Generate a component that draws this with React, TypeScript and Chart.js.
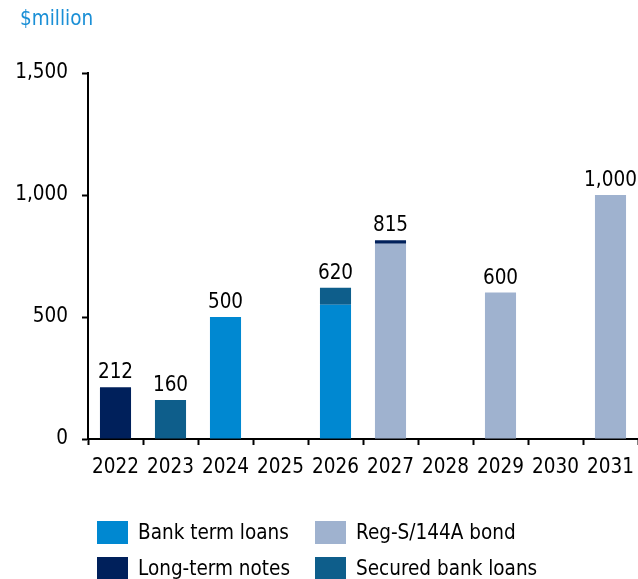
import React, { useEffect, useRef } from "react";
import { Chart, registerables } from "chart.js";

Chart.register(...registerables);

const categories = ["2022", "2023", "2024", "2025", "2026", "2027", "2028", "2029", "2030", "2031"];
const bankTermLoans = [0, 0, 500, 0, 550, 0, 0, 0, 0, 0];
const regSBond = [0, 0, 0, 0, 0, 800, 0, 600, 0, 1000];
const longTermNotes = [212, 0, 0, 0, 0, 15, 0, 0, 0, 0];
const securedBankLoans = [0, 160, 0, 0, 70, 0, 0, 0, 0, 0];
const yTicks = [0, 500, 1000, 1500];

const FONT = "'DejaVu Sans Condensed', 'DejaVu Sans', Verdana, sans-serif";
const FS = 20.5;

const series = [
  { label: "Bank term loans", data: bankTermLoans, color: "#0088d1" },
  { label: "Reg-S/144A bond", data: regSBond, color: "#9fb2cf" },
  { label: "Long-term notes", data: longTermNotes, color: "#00205b" },
  { label: "Secured bank loans", data: securedBankLoans, color: "#0e5e8b" },
];

const totalsPlugin = {
  id: "totals",
  afterDatasetsDraw(chart: any) {
    const ctx = chart.ctx;
    ctx.save();
    ctx.font = `${FS}px ${FONT}`;
    ctx.fillStyle = "#000";
    ctx.textAlign = "center";
    ctx.textBaseline = "alphabetic";
    categories.forEach((_, i) => {
      let total = 0;
      let topY: number | null = null;
      let x = 0;
      chart.data.datasets.forEach((ds: any, di: number) => {
        const v = ds.data[i];
        if (v > 0) {
          total += v;
          const el = chart.getDatasetMeta(di).data[i];
          if (topY === null || el.y < topY) topY = el.y;
          x = el.x;
        }
      });
      if (total > 0 && topY !== null) {
        ctx.fillText(total.toLocaleString("en-US"), x, topY - 9);
      }
    });
    ctx.restore();
  },
};

export default function App() {
  const ref = useRef<HTMLCanvasElement | null>(null);
  useEffect(() => {
    if (!ref.current) return;
    const chart = new Chart(ref.current, {
      type: "bar",
      data: {
        labels: categories,
        datasets: series.map((s) => ({
          label: s.label,
          data: s.data,
          backgroundColor: s.color,
          borderWidth: 0,
          categoryPercentage: 1,
          barPercentage: 0.565,
        })),
      },
      options: {
        responsive: false,
        animation: false,
        devicePixelRatio: 1,
        layout: { padding: { top: 73, right: 0, bottom: 100, left: 0 } },
        plugins: {
          legend: { display: false },
          tooltip: { enabled: false },
          title: { display: false },
        },
        scales: {
          x: {
            stacked: true,
            afterFit: (s: any) => {
              s.height = 40;
              s.paddingLeft = 0;
              s.paddingRight = 0;
            },
            border: { display: true, color: "#000", width: 2 },
            grid: {
              display: true,
              drawOnChartArea: false,
              drawTicks: true,
              tickLength: 6,
              tickWidth: 2,
              color: "#000",
              offset: true,
            },
            ticks: {
              color: "#000",
              font: { family: FONT, size: FS },
              padding: 10,
              maxRotation: 0,
              autoSkip: false,
            },
          },
          y: {
            stacked: true,
            min: 0,
            max: 1500,
            afterFit: (s: any) => {
              s.width = 88;
            },
            afterBuildTicks: (s: any) => {
              s.ticks = yTicks.map((v) => ({ value: v }));
            },
            border: { display: true, color: "#000", width: 2 },
            grid: {
              display: true,
              drawOnChartArea: false,
              drawTicks: true,
              tickLength: 6,
              tickWidth: 2,
              color: "#000",
            },
            ticks: {
              color: "#000",
              font: { family: FONT, size: FS },
              padding: 14,
              callback: (v: any) => Number(v).toLocaleString("en-US"),
            },
          },
        },
      },
      plugins: [totalsPlugin],
    });
    return () => chart.destroy();
  }, []);

  const legendRows = [
    [series[0], series[1]],
    [series[2], series[3]],
  ];

  return (
    <div
      style={{
        position: "absolute",
        left: 0,
        top: 0,
        width: 638,
        height: 579,
        overflow: "hidden",
        background: "#fff",
        fontFamily: FONT,
      }}
    >
      <canvas ref={ref} width={638} height={579} style={{ position: "absolute", left: 0, top: 0 }} />
      <div
        style={{
          position: "absolute",
          left: 20,
          top: 6,
          fontSize: FS,
          color: "#1a8fd6",
          lineHeight: "24px",
        }}
      >
        $million
      </div>
      {legendRows.map((row, ri) =>
        row.map((s, ci) => (
          <div
            key={s.label}
            style={{
              position: "absolute",
              left: ci === 0 ? 97 : 315,
              top: 521 + ri * 36,
              height: 23,
              display: "flex",
              alignItems: "center",
              whiteSpace: "nowrap",
            }}
          >
            <span
              style={{
                display: "inline-block",
                width: 31,
                height: 23,
                background: s.color,
                marginRight: 10,
              }}
            />
            <span style={{ fontSize: FS, color: "#000", lineHeight: "23px" }}>{s.label}</span>
          </div>
        ))
      )}
    </div>
  );
}
